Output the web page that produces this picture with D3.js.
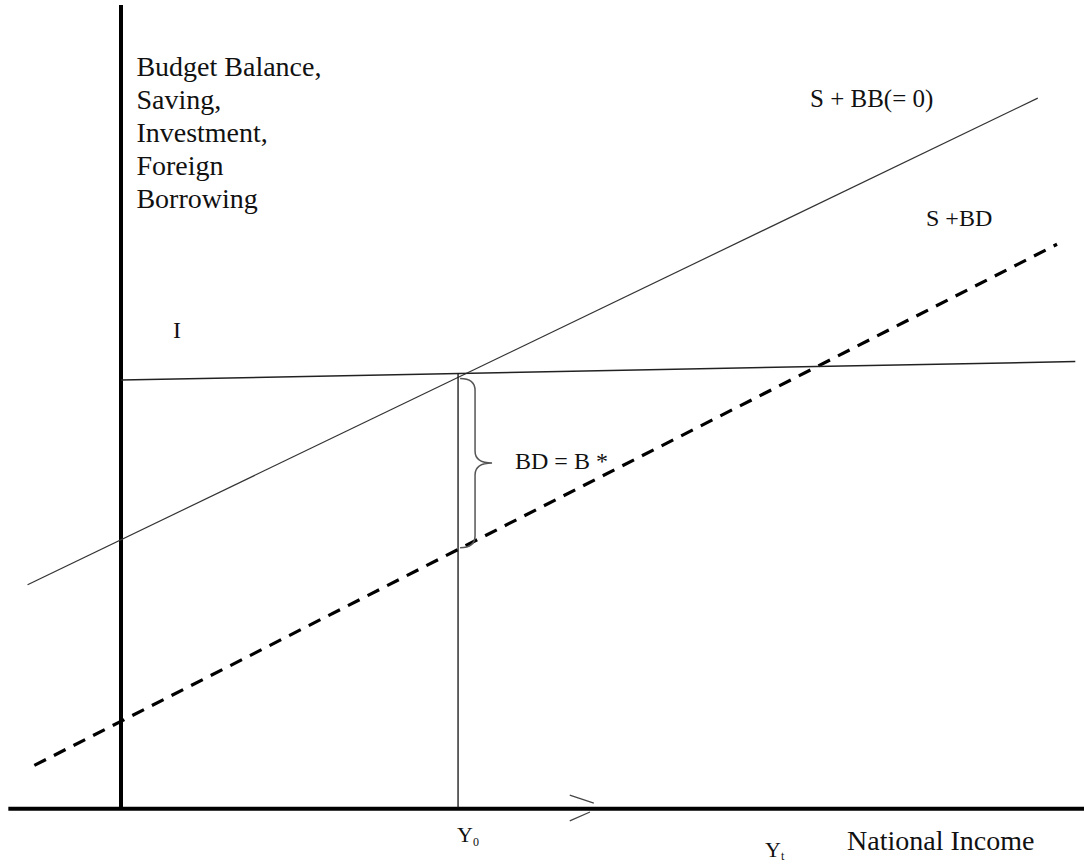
<!DOCTYPE html>
<html>
<head>
<meta charset="utf-8">
<script src="https://cdn.jsdelivr.net/npm/d3@7"></script>
<style>
  body { margin: 0; background: #fff; }
  svg text { font-family: "Liberation Serif", "Times New Roman", "DejaVu Serif", serif; fill: #111; }
</style>
</head>
<body>
<svg></svg>
<script>
// chart units: x = national income (0..100), y = budget balance etc. (0..100)
let saveBB = [[-9.7, 27.8], [95.2, 88.4]]        // S + BB(= 0)
let saveBD = [[-9.0, 5.3], [97.2, 70.2]]         // S + BD (dashed)
let invest = [[0, 53.3], [99.1, 55.6]]           // I
let y0 = 35
let bdTop = 53.5, bdBottom = 32.4

let yLabel = ["Budget Balance,", "Saving,", "Investment,", "Foreign", "Borrowing"]

let width = 1084
let height = 867

let svg = d3.select('svg')
  .attr('width', width)
  .attr('height', height)
  .attr('font-family', '"Liberation Serif", "Times New Roman", serif')

let xScale = d3.scaleLinear().domain([0, 100]).range([121, 1084])
let yScale = d3.scaleLinear().domain([0, 100]).range([808, 5])

let line = d3.line()
  .x(d => xScale(d[0]))
  .y(d => yScale(d[1]))

let iAt = (x) => invest[0][1] + (x - invest[0][0]) * (invest[1][1] - invest[0][1]) / (invest[1][0] - invest[0][0])

// axes
svg.append('line')
  .attr('x1', xScale(0)).attr('x2', xScale(0))
  .attr('y1', yScale(100)).attr('y2', yScale(-0.2))
  .attr('stroke', '#000').attr('stroke-width', 4)

svg.append('line')
  .attr('x1', xScale(-11.7)).attr('x2', xScale(100))
  .attr('y1', yScale(-0.1)).attr('y2', yScale(-0.1))
  .attr('stroke', '#000').attr('stroke-width', 4)

// curves
svg.append('path')
  .attr('d', line(saveBB))
  .attr('fill', 'none').attr('stroke', '#333').attr('stroke-width', 1.2)

svg.append('path')
  .attr('d', line(saveBD))
  .attr('fill', 'none').attr('stroke', '#000').attr('stroke-width', 3.2)
  .attr('stroke-dasharray', '13,9')

svg.append('path')
  .attr('d', line(invest))
  .attr('fill', 'none').attr('stroke', '#222').attr('stroke-width', 1.5)

// Y0 drop line
svg.append('line')
  .attr('x1', xScale(y0)).attr('x2', xScale(y0))
  .attr('y1', yScale(iAt(y0))).attr('y2', yScale(0))
  .attr('stroke', '#111').attr('stroke-width', 1.3)

// brace for BD = B*
let bx0 = xScale(y0) + 2, bx1 = bx0 + 15, btip = bx0 + 32
let by0 = yScale(bdTop), by1 = yScale(bdBottom), bym = (by0 + by1) / 2, r = 12
svg.append('path')
  .attr('d', `M${bx0},${by0} Q${bx1},${by0} ${bx1},${by0 + r} L${bx1},${bym - r} Q${bx1},${bym} ${btip},${bym}` +
             ` Q${bx1},${bym} ${bx1},${bym + r} L${bx1},${by1 - r} Q${bx1},${by1} ${bx0},${by1}`)
  .attr('fill', 'none').attr('stroke', '#555').attr('stroke-width', 1.5)

// little arrow on the income axis
svg.append('path')
  .attr('d', line([[46.6, 1.6], [49.1, 0.6]]))
  .attr('fill', 'none').attr('stroke', '#444').attr('stroke-width', 1.2)
svg.append('path')
  .attr('d', line([[48.7, -0.5], [46.6, -1.6]]))
  .attr('fill', 'none').attr('stroke', '#444').attr('stroke-width', 1.2)

// labels
svg.append('g')
  .selectAll('text')
  .data(yLabel)
  .enter()
  .append('text')
  .attr('x', xScale(1.6))
  .attr('y', (d, i) => 76 + i * 33)
  .attr('font-size', 28)
  .text(d => d)

svg.append('text').attr('x', 810).attr('y', 107).attr('font-size', 25).text('S + BB(= 0)')
svg.append('text').attr('x', 926).attr('y', 226).attr('font-size', 24).text('S +BD')
svg.append('text').attr('x', 173).attr('y', 338).attr('font-size', 24).text('I')
svg.append('text').attr('x', 515).attr('y', 469).attr('font-size', 24).text('BD = B *')

let yo = svg.append('text').attr('x', xScale(y0) - 1).attr('y', 842).attr('font-size', 22)
yo.append('tspan').text('Y')
yo.append('tspan').attr('font-size', 12).attr('dy', 4).text('0')

let yt = svg.append('text').attr('x', 765).attr('y', 857).attr('font-size', 22)
yt.append('tspan').text('Y')
yt.append('tspan').attr('font-size', 12).attr('dy', 3).text('t')

svg.append('text').attr('x', 847).attr('y', 850).attr('font-size', 28).text('National Income')
</script>
</body>
</html>
